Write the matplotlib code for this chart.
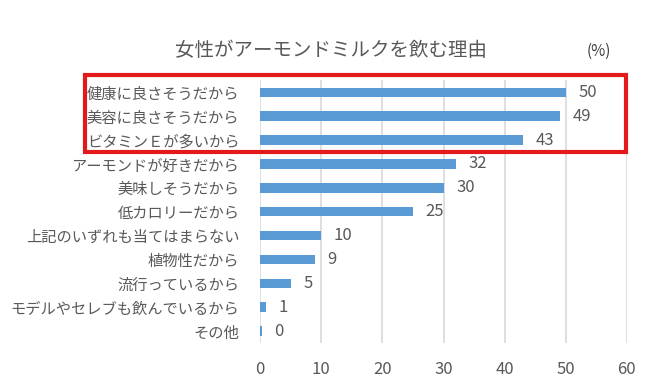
import matplotlib
matplotlib.use('Agg')
import matplotlib.pyplot as plt
from matplotlib.patches import Rectangle

plt.rcParams['font.family'] = ['Noto Sans CJK JP', 'DejaVu Sans']

reasons = ['健康に良さそうだから', '美容に良さそうだから', 'ビタミンＥが多いから',
           'アーモンドが好きだから', '美味しそうだから', '低カロリーだから',
           '上記のいずれも当てはまらない', '植物性だから', '流行っているから',
           'モデルやセレブも飲んでいるから', 'その他']
percent = [50, 49, 43, 32, 30, 25, 10, 9, 5, 1, 0.3]
labels = ['50', '49', '43', '32', '30', '25', '10', '9', '5', '1', '0']
xticks = [0, 10, 20, 30, 40, 50, 60]

txt = '#595959'
fig = plt.figure(figsize=(6.62, 3.92), dpi=100)
ax = fig.add_axes([0.393, 0.125, 0.554, 0.67])

pos = list(range(len(reasons)))[::-1]
ax.barh(pos, percent, height=0.4, color='#5b9bd5', zorder=3)
for p, v, s in zip(pos, percent, labels):
    ax.annotate(s, (v, p), xytext=(9, 0), textcoords='offset points',
                va='center', ha='left', fontsize=12, color=txt)

ax.set_xlim(0, 60)
ax.set_ylim(-0.5, len(reasons) - 0.5)
ax.set_yticks(pos)
ax.set_yticklabels(reasons, fontsize=11, color=txt)
ax.set_xticks(xticks)
ax.set_xticklabels([str(t) for t in xticks], fontsize=12, color=txt)
ax.tick_params(length=0, pad=13, axis='x')
ax.tick_params(length=0, pad=15, axis='y')
ax.grid(axis='x', color='#d9d9d9', linewidth=1.2, zorder=0)
for s in ax.spines.values():
    s.set_visible(False)

fig.text(0.5, 0.87, '女性がアーモンドミルクを飲む理由', ha='center', va='center',
         fontsize=14, color=txt)
fig.text(0.905, 0.87, '(%)', ha='center', va='center', fontsize=11, color='#404040')

# red highlight box round the top three
fig.patches.append(Rectangle((85 / 662, 1 - 152.5 / 392), (626 - 85) / 662, (152.5 - 75.5) / 392,
                             transform=fig.transFigure, fill=False,
                             edgecolor='#e31a1c', linewidth=3))

fig.savefig('out.png', dpi=100, facecolor='white')
